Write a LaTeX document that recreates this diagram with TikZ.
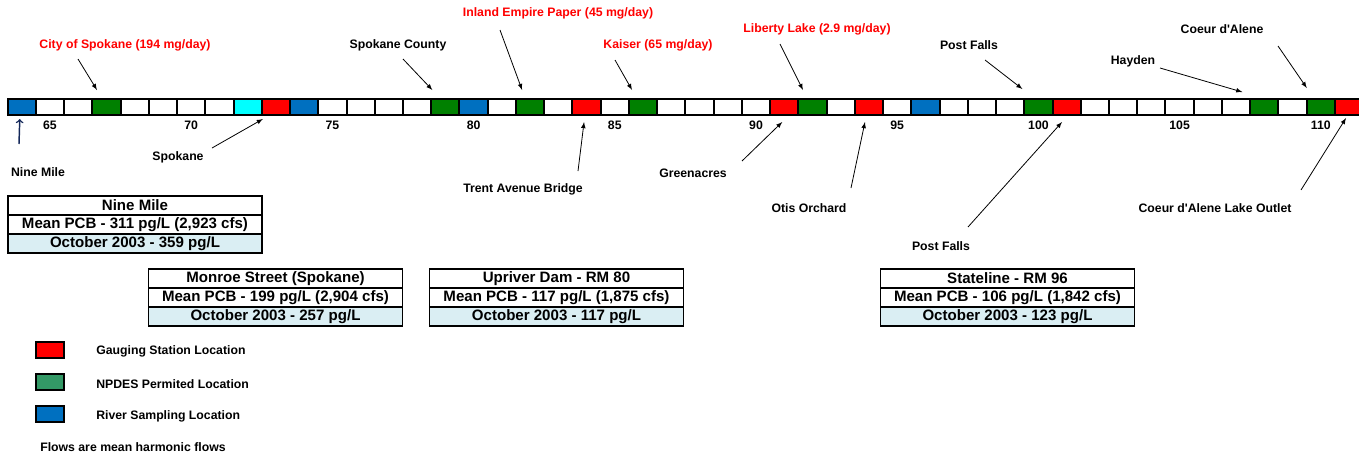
\documentclass[tikz,border=0pt]{standalone}
\usepackage{fontspec}
\setmainfont{Liberation Sans}
\usetikzlibrary{arrows,calc}
\definecolor{gaugered}{HTML}{FF0000}
\definecolor{npdesgreen}{HTML}{008000}
\definecolor{legendgreen}{HTML}{339966}
\definecolor{sampleblue}{HTML}{0070C0}
\definecolor{extracyan}{HTML}{00FFFF}
\definecolor{octblue}{HTML}{DAEEF3}
\definecolor{arrownavy}{HTML}{14285A}

\begin{document}
\begin{tikzpicture}[x=0.75pt,y=-0.75pt,>=latex,
  cell/.style={draw,line width=1.5pt,minimum width=21.18pt,minimum height=12pt,inner sep=0pt},
  lbl/.style={font=\fontsize{9.2}{11}\selectfont\bfseries,inner sep=0pt},
  redlbl/.style={lbl,text=gaugered},
  ptr/.style={->,line width=0.6pt},
  row/.style={draw,line width=1.2pt,minimum width=190.5pt,minimum height=14.25pt,inner sep=0pt,font=\fontsize{11.3}{13}\selectfont\bfseries}]
	\useasboundingbox (0,0) rectangle (1359,458);
	% milhas do rio
	\foreach \m in {64,...,111}
		\node[cell] (c\m) at ({50+28.24*(\m-65)},107) {};
	% pontos coloridos
	\foreach \m/\c in {64/sampleblue,67/npdesgreen,72/extracyan,73/gaugered,74/sampleblue,
		79/npdesgreen,80/sampleblue,82/npdesgreen,84/gaugered,86/npdesgreen,91/gaugered,
		92/npdesgreen,94/gaugered,96/sampleblue,100/npdesgreen,101/gaugered,108/npdesgreen,
		110/npdesgreen,111/gaugered}
		\node[cell,fill=\c] (c\m) at ({50+28.24*(\m-65)},107) {};
	% rotulos das milhas
	\foreach \m in {65,70,...,110}
		\node[lbl] (t\m) at ($(c\m)+(0,18)$) {\m};
	% descargas acima do rio
	\node[redlbl] (spkcity) at (125,45) {City of Spokane (194 mg/day)};
	\node[lbl] (spkcounty) at (398,45) {Spokane County};
	\node[redlbl] (iep) at (558,13) {Inland Empire Paper (45 mg/day)};
	\node[redlbl] (kaiser) at (658,45) {Kaiser (65 mg/day)};
	\node[redlbl] (liberty) at (817,29) {Liberty Lake (2.9 mg/day)};
	\node[lbl] (pfnorth) at (969,45) {Post Falls};
	\node[lbl] (hayden) at (1133,61) {Hayden};
	\node[lbl] (cda) at (1222,29) {Coeur d\textquotesingle Alene};
	\draw[ptr] ($(spkcity)+(-47,14)$) -- ($(c67)+(-9.5,-17)$);
	\draw[ptr] ($(spkcounty)+(5,14)$) -- ($(c79)+(-13,-17)$);
	\draw[ptr] ($(iep)+(-58,17)$) -- ($(c82)+(-8,-17)$);
	\draw[ptr] ($(kaiser)+(-43,15)$) -- ($(c86)+(-11,-17)$);
	\draw[ptr] ($(liberty)+(-37,15)$) -- ($(c92)+(-9.5,-17)$);
	\draw[ptr] ($(pfnorth)+(16,15)$) -- ($(c100)+(-16,-18)$);
	\draw[ptr] ($(hayden)+(27,7)$) -- ($(c108)+(-22,-15)$);
	\draw[ptr] ($(cda)+(56,17)$) -- ($(c110)+(-14,-19)$);
	% estacoes abaixo do rio
	\node[lbl] (ninemile) at (38,172) {Nine Mile};
	\node[lbl] (spokane) at (178,157) {Spokane};
	\node[lbl] (trent) at (523,189) {Trent Avenue Bridge};
	\node[lbl] (greenacres) at (693,173) {Greenacres};
	\node[lbl] (otis) at (809,208) {Otis Orchard};
	\node[lbl] (pfsouth) at (941,246) {Post Falls};
	\node[lbl] (outlet) at (1215,208) {Coeur d\textquotesingle Alene Lake Outlet};
	\draw[-to,arrownavy,line width=1.1pt] ($(ninemile)+(-19,-28)$) -- ($(c64)+(-2,12)$);
	\draw[ptr] ($(spokane)+(34,-9)$) -- ($(c73)+(-13,12)$);
	\draw[ptr] ($(trent)+(55,-18)$) -- ($(c84)+(-2.5,15)$);
	\draw[ptr] ($(greenacres)+(49,-12)$) -- ($(c91)+(-2,15)$);
	\draw[ptr] ($(otis)+(42,-20)$) -- ($(c94)+(-4,15)$);
	\draw[ptr] ($(pfsouth)+(27,-19)$) -- ($(c101)+(-4.6,15)$);
	\draw[ptr] ($(outlet)+(86,-18)$) -- ($(c111)+(-3,11)$);
	% tabelas de PCB
	\foreach \tb/\x/\y/\ttl/\mean/\oct in {
		nine/135/205.5/{Nine Mile}/{Mean PCB - 311 pg/L (2,923 cfs)}/{October 2003 - 359 pg/L},
		monroe/275.5/278.5/{Monroe Street (Spokane)}/{Mean PCB - 199 pg/L (2,904 cfs)}/{October 2003 - 257 pg/L},
		upriver/556.5/278.5/{Upriver Dam - RM 80}/{Mean PCB - 117 pg/L (1,875 cfs)}/{October 2003 - 117 pg/L},
		stateline/1007.5/278.5/{Stateline - RM 96}/{Mean PCB - 106 pg/L (1,842 cfs)}/{October 2003 - 123 pg/L}}
	{
		\node[row] (\tb-1) at (\x,\y) {\ttl};
		\node[row] (\tb-2) at ($(\tb-1)+(0,19)$) {\mean};
		\node[row,fill=octblue] (\tb-3) at ($(\tb-2)+(0,19)$) {\oct};
	}
	% legenda
	\node[cell,fill=gaugered] (leggauge) at (50,350) {};
	\node[cell,fill=legendgreen] (legnpdes) at (50,382) {};
	\node[cell,fill=sampleblue] (legriver) at (50,414) {};
	\node[lbl,anchor=west] (txtgauge) at (96,351) {Gauging Station Location};
	\node[lbl,anchor=west] (txtnpdes) at (96,384) {NPDES Permited Location};
	\node[lbl,anchor=west] (txtriver) at (96,416) {River Sampling Location};
	\node[lbl,anchor=west] (flows) at (40,447) {Flows are mean harmonic flows};
\end{tikzpicture}
\end{document}
